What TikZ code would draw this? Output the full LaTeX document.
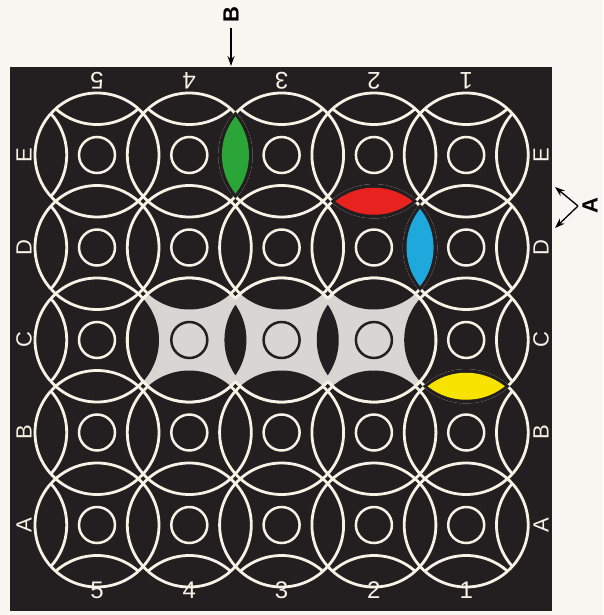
\documentclass[tikz,border=0pt]{standalone}
\usepackage{fontspec}
\setmainfont{Liberation Sans}
\usetikzlibrary{arrows.meta}
\definecolor{paper}{HTML}{F8F6F0}
\definecolor{board}{HTML}{231F20}
\definecolor{wline}{HTML}{F7F2E6}
\definecolor{greyfill}{HTML}{D9D5D2}
\definecolor{lgreen}{HTML}{2BA537}
\definecolor{lred}{HTML}{E8221E}
\definecolor{lcyan}{HTML}{1FA8DC}
\definecolor{lyellow}{HTML}{F8E200}
\newcommand{\cx}[1]{97+92.3*(#1)}
\newcommand{\cy}[1]{155+92.5*(#1)}
% lens = intersection of two circles: colour, x1, y1, x2, y2, radius
\newcommand{\lensfill}[6]{\begin{scope}\clip (#2,#3) circle (#6);\fill[#1] (#4,#5) circle (#6);\end{scope}}
\begin{document}
\begin{tikzpicture}[x=1pt,y=-1pt,
  wring/.style={draw=wline,line width=2.8pt},
  sring/.style={draw=wline,line width=2.5pt},
  dring/.style={draw=board,line width=2.5pt},
  numlbl/.style={text=wline,font=\fontsize{24}{24}\selectfont,inner sep=0pt},
  letlbl/.style={text=wline,font=\fontsize{22}{22}\selectfont,inner sep=0pt,rotate=90},
  outlbl/.style={text=black,font=\bfseries\fontsize{22}{22}\selectfont,inner sep=0pt,rotate=90},
  pointer/.style={draw=black,line width=1.3pt,-{Stealth[length=10pt,width=7pt]}}]
\fill[paper] (0,0) rectangle (603,615);
\useasboundingbox (0,0) rectangle (603,615);
\fill[board] (10,67) rectangle (552,611);
% arcs of the outer (virtual) ring of circles, inside the board circles
\begin{scope}
\clip \foreach \i in {0,...,4}{\foreach \j in {0,...,4}{({\cx{\i}},{\cy{\j}}) circle (62)}};
\foreach \k in {0,...,4}{
  \draw[wring] ({\cx{\k}},{\cy{-1}}) circle (62);
  \draw[wring] ({\cx{\k}},{\cy{5}}) circle (62);
  \draw[wring] ({\cx{-1}},{\cy{\k}}) circle (62);
  \draw[wring] ({\cx{5}},{\cy{\k}}) circle (62);
}
\end{scope}
% board circles
\foreach \i in {0,...,4}{\foreach \j in {0,...,4}{
  \draw[wring] ({\cx{\i}},{\cy{\j}}) circle (62);
  \draw[sring] ({\cx{\i}},{\cy{\j}}) circle (18);
}}
% grey region in row C, columns 4,3,2
\begin{scope}
\clip \foreach \i in {1,2,3}{({\cx{\i}},{\cy{2}}) circle (62)};
\fill[greyfill] (0,0) rectangle (603,615);
\fill[board] \foreach \i in {1,2,3}{({\cx{\i}},{\cy{1}}) circle (62) ({\cx{\i}},{\cy{3}}) circle (62)}
  ({\cx{0}},{\cy{2}}) circle (62) ({\cx{4}},{\cy{2}}) circle (62);
\lensfill{board}{184.45}{340}{286.45}{340}{62}
\lensfill{board}{276.75}{340}{378.75}{340}{62}
\end{scope}
% outline of the grey region
\draw[wring] ({189.3+62*cos(41.9)},{340+62*sin(41.9)}) arc[start angle=41.9,end angle=318.1,radius=62];
\draw[wring] ({281.6+62*cos(41.9)},{340+62*sin(41.9)}) arc[start angle=41.9,end angle=138.1,radius=62];
\draw[wring] ({281.6+62*cos(221.9)},{340+62*sin(221.9)}) arc[start angle=221.9,end angle=318.1,radius=62];
\draw[wring] ({373.9+62*cos(-138.1)},{340+62*sin(-138.1)}) arc[start angle=-138.1,end angle=138.1,radius=62];
\foreach \i in {1,2,3}{\draw[dring] ({\cx{\i}},{\cy{2}}) circle (18);}
% coloured lenses
\lensfill{board}{189.3}{155}{281.6}{155}{63.4}
\lensfill{lgreen}{186.95}{155}{283.95}{155}{62}
\lensfill{board}{373.9}{155}{373.9}{247.5}{63.4}
\lensfill{lred}{373.9}{152.75}{373.9}{249.75}{62}
\lensfill{board}{373.9}{247.5}{466.2}{247.5}{63.4}
\lensfill{lcyan}{371.55}{247.5}{468.55}{247.5}{62}
\lensfill{board}{466.2}{340}{466.2}{432.5}{63.4}
\lensfill{lyellow}{466.2}{337.75}{466.2}{434.75}{62}
% column numbers
\foreach \n [count=\c from 0] in {5,4,3,2,1}{
  \node[numlbl,rotate=180] (top\n) at ({\cx{\c}},81) {\n};
  \node[numlbl] (bot\n) at ({\cx{\c}},590) {\n};
}
% row letters
\foreach \l [count=\r from 0] in {E,D,C,B,A}{
  \node[letlbl] (left\l) at (24,{\cy{\r}}) {\l};
  \node[letlbl] (right\l) at (541,{\cy{\r}}) {\l};
}
% pointer B
\node[outlbl] (ptrB) at (231,15) {B};
\coordinate (ptrBend) at (231,66);
\draw[pointer,shorten <=5pt] (ptrB) -- (ptrBend);
% pointer A
\node[outlbl] (ptrA) at (590,206) {A};
\coordinate (ptrAv) at (578,206);
\coordinate (ptrAu) at (555,187);
\coordinate (ptrAd) at (555,228);
\draw[pointer] (ptrAv) -- (ptrAu);
\draw[pointer] (ptrAv) -- (ptrAd);
\end{tikzpicture}
\end{document}
